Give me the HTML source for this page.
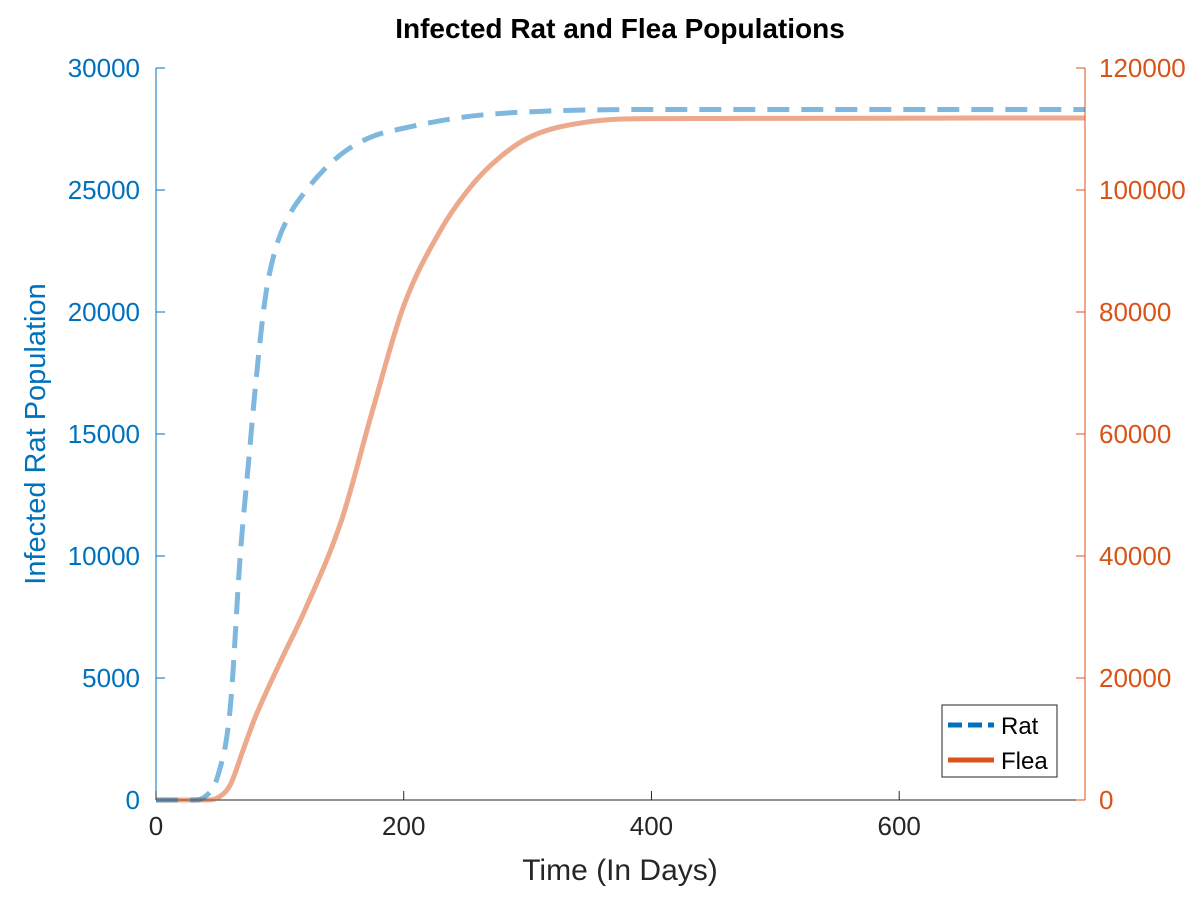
<!DOCTYPE html>
<html><head><meta charset="utf-8"><style>
body{margin:0;background:#fff;font-family:"Liberation Sans",sans-serif}
</style></head><body>
<svg id="c" width="1200" height="900" xmlns="http://www.w3.org/2000/svg">
<text x="620" y="38" text-anchor="middle" font-size="28" font-weight="bold" fill="#000">Infected Rat and Flea Populations</text>
<g id="axes"></g>
<g id="series"></g>
<text x="620" y="880" text-anchor="middle" font-size="30" fill="#262626">Time (In Days)</text>
<text transform="translate(45,434) rotate(-90)" text-anchor="middle" font-size="29" fill="#0072BD">Infected Rat Population</text>
<g>
<rect x="942" y="705" width="115" height="72" fill="#fff" stroke="#262626" stroke-width="1"/>
<line x1="948" y1="725" x2="994" y2="725" stroke="#0072BD" stroke-width="5" stroke-dasharray="14,6"/>
<text x="1001" y="734" font-size="24" fill="#000">Rat</text>
<line x1="948" y1="760" x2="994" y2="760" stroke="#D95319" stroke-width="5"/>
<text x="1001" y="769" font-size="24" fill="#000">Flea</text>
</g>
</svg>
<script>
const ratT=[0,30,40,50,60,68,75,80,88,96,108,120,135,153,175,197,250,300,400,750];
const ratV=[0,0,150,1000,3800,10000,14000,16800,20500,22500,24000,24900,25800,26600,27200,27500,28000,28200,28300,28300];
const fleaT=[0,40,50,60,70,80,100,120,150,175,200,230,250,270,300,350,400,750];
const fleaV=[0,0,400,2500,8000,13500,22500,31000,46000,64000,81000,93500,99500,104000,108500,111200,111700,111800];
const xTicks=[0,200,400,600];
const yLTicks=[0,5000,10000,15000,20000,25000,30000];
const yRTicks=[0,20000,40000,60000,80000,100000,120000];
const L=156,R=1085,T=68,B=800;
const xs=t=>L+t/750*(R-L), yl=v=>B-v/30000*(B-T), yr=v=>B-v/120000*(B-T);
const NS='http://www.w3.org/2000/svg';
const ax=document.getElementById('axes'), se=document.getElementById('series');
function mk(p,tag,a){const e=document.createElementNS(NS,tag);for(const k in a)e.setAttribute(k,a[k]);p.appendChild(e);return e;}
let e=mk(ax,'line',{x1:L,y1:B,x2:R,y2:B,stroke:'#262626','stroke-width':1});


e=mk(ax,'line',{x1:L,y1:T,x2:L,y2:B,stroke:'#0072BD','stroke-width':1});


e=mk(ax,'line',{x1:R,y1:T,x2:R,y2:B,stroke:'#D95319','stroke-width':1});


xTicks.forEach(t=>{mk(ax,'line',{x1:xs(t),y1:B,x2:xs(t),y2:B-9,stroke:'#262626'});
 e=mk(ax,'text',{x:xs(t),y:B+35,'text-anchor':'middle','font-size':26,fill:'#262626'});e.textContent=t;
 
 });
yLTicks.forEach(v=>{mk(ax,'line',{x1:L,y1:yl(v),x2:L+9,y2:yl(v),stroke:'#0072BD'});
 e=mk(ax,'text',{x:L-16,y:yl(v)+9,'text-anchor':'end','font-size':26,fill:'#0072BD'});e.textContent=v;
 
 });
yRTicks.forEach(v=>{mk(ax,'line',{x1:R,y1:yr(v),x2:R-9,y2:yr(v),stroke:'#D95319'});
 e=mk(ax,'text',{x:R+14,y:yr(v)+9,'font-size':26,fill:'#D95319'});e.textContent=v;
 
 });
function path(T,V,y){
 const n=T.length,X=T.map(xs),Y=V.map(y),d=[],m=[];
 for(let i=0;i<n-1;i++)d.push((Y[i+1]-Y[i])/(X[i+1]-X[i]));
 m[0]=d[0];m[n-1]=d[n-2];
 for(let i=1;i<n-1;i++)m[i]=(d[i-1]*d[i]<=0)?0:(d[i-1]+d[i])/2;
 for(let i=0;i<n-1;i++){if(d[i]===0){m[i]=0;m[i+1]=0;continue;}
  const a=m[i]/d[i],b=m[i+1]/d[i],s=a*a+b*b;if(s>9){const t=3/Math.sqrt(s);m[i]=t*a*d[i];m[i+1]=t*b*d[i];}}
 let p='M'+X[0].toFixed(1)+','+Y[0].toFixed(1);
 for(let i=0;i<n-1;i++){const h=(X[i+1]-X[i])/3;
  p+='C'+(X[i]+h).toFixed(1)+','+(Y[i]+m[i]*h).toFixed(1)+' '+(X[i+1]-h).toFixed(1)+','+(Y[i+1]-m[i+1]*h).toFixed(1)+' '+X[i+1].toFixed(1)+','+Y[i+1].toFixed(1);}
 return p;}
e=mk(se,'path',{d:path(fleaT,fleaV,yr),fill:'none',stroke:'#D95319','stroke-opacity':0.5,'stroke-width':5,'stroke-linejoin':'round'});


e=mk(se,'path',{d:path(ratT,ratV,yl),fill:'none',stroke:'#0072BD','stroke-opacity':0.5,'stroke-width':5,'stroke-dasharray':'22,12'});


</script>
</body></html>
